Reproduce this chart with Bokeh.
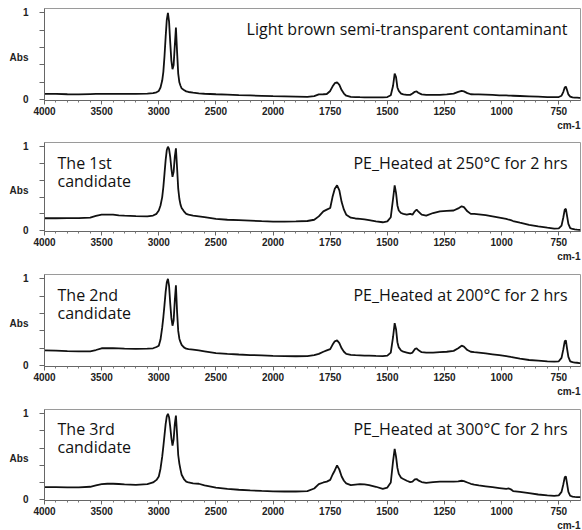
from bokeh.plotting import figure
from bokeh.models import Range1d, FixedTicker, Label, ColumnDataSource, Title
from bokeh.layouts import column
from bokeh.embed import file_html
from bokeh.resources import INLINE

# ---------------- data (wavenumber grid, cm-1) ----------------
WN_HIGH = [4000, 3900, 3800, 3700, 3600, 3550, 3500, 3450, 3400, 3350, 3300, 3200]
WN_CH = [3100, 3050, 3020, 3000, 2985,
         2970, 2960, 2950, 2940, 2930,
         2920, 2910, 2900, 2890, 2880,
         2870, 2860, 2850, 2840, 2830,
         2820, 2810, 2800, 2780, 2760,
         2740, 2700]
WN_MID = [2650, 2600, 2500, 2400, 2300, 2200, 2100, 2000]
WN_LOW = [1950, 1900, 1850, 1820, 1800,
          1780, 1765, 1750, 1740, 1730,
          1720, 1710, 1700, 1690, 1680,
          1660, 1640, 1620, 1600, 1580,
          1550, 1520, 1500, 1485, 1475,
          1468, 1462, 1456, 1450, 1440,
          1430, 1415, 1400, 1390, 1380,
          1372, 1365, 1350, 1330, 1300,
          1270, 1240, 1210, 1190, 1175,
          1165, 1150, 1135, 1120, 1100,
          1070, 1040, 1010, 980, 968,
          960, 950, 920, 880, 840,
          800, 770, 750, 738, 730,
          724, 719, 714, 708, 700,
          690, 680, 670, 660, 655]
wavenumbers = WN_HIGH + WN_CH + WN_MID + WN_LOW

# Light brown semi-transparent contaminant
abs_contaminant = (
    [0.066, 0.066, 0.062, 0.060, 0.064, 0.066, 0.066, 0.066, 0.066, 0.066, 0.066, 0.067]
    + [0.070, 0.075, 0.085, 0.100, 0.140,
       0.220, 0.320, 0.500, 0.720, 0.920,
       1.000, 0.900, 0.660, 0.450, 0.350,
       0.400, 0.620, 0.830, 0.550, 0.300,
       0.200, 0.160, 0.130, 0.110, 0.095,
       0.088, 0.080]
    + [0.072, 0.068, 0.062, 0.058, 0.052, 0.048, 0.044, 0.040]
    + [0.038, 0.035, 0.032, 0.040, 0.060,
       0.062, 0.065, 0.100, 0.150, 0.190,
       0.200, 0.170, 0.110, 0.070, 0.045,
       0.032, 0.030, 0.028, 0.027, 0.027,
       0.026, 0.027, 0.030, 0.050, 0.160,
       0.300, 0.260, 0.140, 0.100, 0.070,
       0.060, 0.055, 0.055, 0.070, 0.090,
       0.095, 0.080, 0.060, 0.055, 0.055,
       0.055, 0.060, 0.070, 0.090, 0.100,
       0.095, 0.075, 0.062, 0.060, 0.060,
       0.058, 0.055, 0.050, 0.048, 0.047,
       0.046, 0.045, 0.042, 0.038, 0.034,
       0.030, 0.028, 0.030, 0.045, 0.090,
       0.140, 0.150, 0.110, 0.060, 0.035,
       0.025, 0.022, 0.022, 0.020, 0.020]
)

# The 1st candidate: PE heated at 250 C for 2 hrs
abs_pe250 = (
    [0.148, 0.148, 0.149, 0.150, 0.155, 0.175, 0.190, 0.192, 0.190, 0.182, 0.178, 0.172]
    + [0.170, 0.180, 0.200, 0.240, 0.300,
       0.400, 0.520, 0.680, 0.840, 0.960,
       1.000, 0.970, 0.880, 0.740, 0.640,
       0.700, 0.880, 0.980, 0.750, 0.500,
       0.380, 0.310, 0.270, 0.230, 0.200,
       0.190, 0.180]
    + [0.170, 0.160, 0.140, 0.130, 0.125, 0.120, 0.113, 0.108]
    + [0.108, 0.110, 0.115, 0.130, 0.170,
       0.230, 0.250, 0.270, 0.400, 0.500,
       0.540, 0.480, 0.340, 0.250, 0.190,
       0.155, 0.145, 0.140, 0.135, 0.125,
       0.110, 0.100, 0.110, 0.160, 0.380,
       0.540, 0.450, 0.300, 0.240, 0.210,
       0.200, 0.190, 0.200, 0.190, 0.230,
       0.250, 0.230, 0.190, 0.180, 0.210,
       0.230, 0.235, 0.240, 0.265, 0.290,
       0.280, 0.230, 0.200, 0.200, 0.195,
       0.185, 0.170, 0.155, 0.140, 0.130,
       0.125, 0.115, 0.095, 0.070, 0.050,
       0.035, 0.025, 0.028, 0.060, 0.160,
       0.250, 0.260, 0.180, 0.080, 0.030,
       0.020, 0.015, 0.012, 0.010, 0.010]
)

# The 2nd candidate: PE heated at 200 C for 2 hrs
abs_pe200 = (
    [0.175, 0.172, 0.168, 0.165, 0.165, 0.180, 0.200, 0.202, 0.200, 0.198, 0.196, 0.194]
    + [0.195, 0.200, 0.215, 0.230, 0.300,
       0.440, 0.560, 0.700, 0.850, 0.960,
       1.000, 0.920, 0.720, 0.550, 0.460,
       0.520, 0.750, 0.925, 0.620, 0.400,
       0.310, 0.270, 0.240, 0.210, 0.195,
       0.190, 0.185]
    + [0.175, 0.165, 0.145, 0.135, 0.128, 0.122, 0.118, 0.112]
    + [0.110, 0.108, 0.110, 0.120, 0.135,
       0.160, 0.175, 0.190, 0.240, 0.280,
       0.290, 0.260, 0.200, 0.160, 0.135,
       0.125, 0.120, 0.118, 0.116, 0.115,
       0.112, 0.110, 0.115, 0.150, 0.330,
       0.490, 0.420, 0.270, 0.210, 0.175,
       0.160, 0.150, 0.140, 0.150, 0.190,
       0.200, 0.180, 0.155, 0.150, 0.150,
       0.155, 0.160, 0.170, 0.200, 0.230,
       0.220, 0.180, 0.160, 0.155, 0.150,
       0.140, 0.130, 0.120, 0.110, 0.105,
       0.100, 0.095, 0.080, 0.065, 0.058,
       0.050, 0.045, 0.050, 0.090, 0.190,
       0.280, 0.290, 0.200, 0.100, 0.050,
       0.040, 0.035, 0.033, 0.030, 0.030]
)

# The 3rd candidate: PE heated at 300 C for 2 hrs
abs_pe300 = (
    [0.146, 0.145, 0.142, 0.142, 0.150, 0.165, 0.180, 0.185, 0.185, 0.182, 0.178, 0.173]
    + [0.180, 0.200, 0.230, 0.270, 0.360,
       0.500, 0.620, 0.750, 0.880, 0.970,
       1.000, 0.960, 0.850, 0.720, 0.630,
       0.700, 0.880, 0.980, 0.760, 0.520,
       0.420, 0.350, 0.290, 0.240, 0.210,
       0.200, 0.190]
    + [0.185, 0.165, 0.140, 0.125, 0.115, 0.108, 0.102, 0.097]
    + [0.095, 0.095, 0.100, 0.130, 0.180,
       0.200, 0.210, 0.230, 0.290, 0.340,
       0.400, 0.350, 0.270, 0.220, 0.190,
       0.170, 0.175, 0.180, 0.178, 0.170,
       0.150, 0.125, 0.140, 0.200, 0.450,
       0.590, 0.500, 0.370, 0.300, 0.255,
       0.240, 0.220, 0.205, 0.210, 0.235,
       0.240, 0.225, 0.205, 0.195, 0.205,
       0.210, 0.210, 0.210, 0.212, 0.220,
       0.215, 0.200, 0.185, 0.175, 0.165,
       0.155, 0.145, 0.135, 0.125, 0.130,
       0.120, 0.100, 0.090, 0.075, 0.060,
       0.050, 0.045, 0.050, 0.090, 0.180,
       0.260, 0.270, 0.190, 0.090, 0.045,
       0.035, 0.032, 0.030, 0.030, 0.030]
)

spectra = [abs_contaminant, abs_pe250, abs_pe200, abs_pe300]
right_texts = ["Light brown semi-transparent contaminant",
               "PE_Heated at 250°C for 2 hrs",
               "PE_Heated at 200°C for 2 hrs",
               "PE_Heated at 300°C for 2 hrs"]
left_texts = [None, ("The 1st", "candidate"), ("The 2nd", "candidate"), ("The 3rd", "candidate")]

x_major_labels = [4000, 3500, 3000, 2500, 2000, 1750, 1500, 1250, 1000, 750]
x_minor_high = [w for w in range(3900, 2000, -100) if w % 500 != 0]
x_minor_low = [w for w in range(1950, 650, -50) if w % 250 != 0]
y_tick_marks = [0, 0.2, 0.4, 0.6, 0.8, 1]
y_labels = {0: "0", 0.48: "Abs", 1: "1"}
x_unit = "cm-1"


# IR spectrometer axis: 4000-2000 compressed by 2 relative to 2000-650
def to_u(w):
    return (4000 - w) / 2 if w >= 2000 else 1000 + (2000 - w)


X_END_WN = 655
U_END = to_u(X_END_WN)
Y0, Y1 = -0.01, 1.05

W = 582
BL, BR = 44, 2
border_tops = [8, 6, 6, 6]
frame_heights = [92, 89, 92, 92]
border_bottoms = [36, 37, 37, 29]
frame_w = W - BL - BR
ppx = frame_w / U_END

TICK_FONT = "Liberation Sans"
CAP_FONT = "Open Sans"
CAP_SIZE = "16px"

figs = []
for i, ab in enumerate(spectra):
    fh = frame_heights[i]
    bb = border_bottoms[i]
    bt = border_tops[i]
    ppu = fh / (Y1 - Y0)
    p = figure(width=W, height=bt + fh + bb,
               x_range=Range1d(0, U_END), y_range=Range1d(Y0, Y1),
               output_backend="svg", toolbar_location=None,
               min_border_left=BL, min_border_right=BR,
               min_border_top=bt, min_border_bottom=bb)
    p.grid.visible = False
    p.outline_line_color = "#9a9a9a"
    p.outline_line_width = 1
    p.background_fill_color = "white"
    p.border_fill_color = "white"

    n = min(len(wavenumbers), len(ab))
    src = ColumnDataSource(dict(u=[to_u(w) for w in wavenumbers[:n]], a=ab[:n]))
    p.line(x="u", y="a", source=src, line_color="#111111", line_width=1.8)

    # x axis
    xa = p.xaxis[0]
    xa.ticker = FixedTicker(ticks=[to_u(w) for w in x_major_labels],
                            minor_ticks=[to_u(w) for w in x_minor_high + x_minor_low])
    xa.major_label_overrides = {to_u(w): str(w) for w in x_major_labels}
    xa.axis_line_color = "#666666"
    xa.major_tick_line_color = "#666666"
    xa.minor_tick_line_color = "#777777"
    xa.major_tick_in = 0
    xa.major_tick_out = 4
    xa.minor_tick_in = 0
    xa.minor_tick_out = 2
    xa.major_label_standoff = 2
    xa.major_label_text_font = TICK_FONT
    xa.major_label_text_font_style = "bold"
    xa.major_label_text_font_size = "10px"
    xa.major_label_text_color = "#222222"

    # y axis: tick marks every 0.2, labels 0 / Abs / 1
    ya = p.yaxis[0]
    ya.ticker = FixedTicker(ticks=list(y_labels.keys()), minor_ticks=y_tick_marks)
    ya.major_label_overrides = dict(y_labels)
    ya.axis_line_color = "#666666"
    ya.major_tick_line_color = None
    ya.minor_tick_line_color = "#666666"
    ya.major_tick_in = 0
    ya.major_tick_out = 0
    ya.minor_tick_in = 0
    ya.minor_tick_out = 5
    ya.major_label_standoff = 11
    ya.major_label_text_font = TICK_FONT
    ya.major_label_text_font_style = "bold"
    ya.major_label_text_font_size = "10px"
    ya.major_label_text_color = "#222222"

    # unit label under the x axis, right aligned
    p.add_layout(Title(text=x_unit, align="right", standoff=0,
                       text_font=TICK_FONT, text_font_style="bold",
                       text_font_size="10px", text_color="#222222"), "below")

    # caption right
    p.add_layout(Label(x=U_END - 13 / ppx, y=Y1 - 20 / ppu, text=right_texts[i],
                       text_align="right", text_baseline="middle",
                       text_font=CAP_FONT, text_font_size=CAP_SIZE,
                       text_color="#111111"))
    # caption left
    if left_texts[i]:
        for k, line in enumerate(left_texts[i]):
            p.add_layout(Label(x=13 / ppx, y=Y1 - (20 + 18 * k) / ppu, text=line,
                               text_align="left", text_baseline="middle",
                               text_font=CAP_FONT, text_font_size=CAP_SIZE,
                               text_color="#111111"))
    figs.append(p)

layout = column(*figs, spacing=0)
open("out.html", "w").write(file_html(layout, INLINE))
